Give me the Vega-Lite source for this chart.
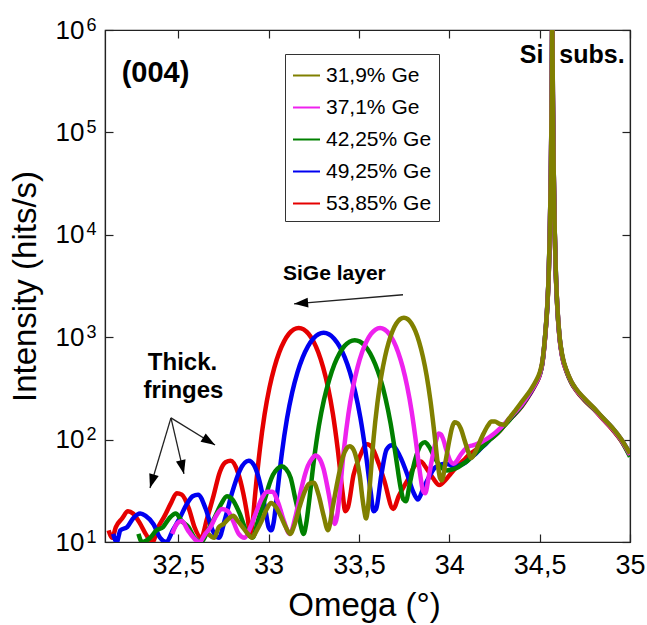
{
"$schema": "https://vega.github.io/schema/vega-lite/v6.json",
"width": 525, "height": 512,
"autosize": {"type": "none"},
"padding": {"left": 105, "top": 30, "right": 17, "bottom": 83},
"background": "white",
"config": {
  "view": {"stroke": "#222", "strokeWidth": 1.2},
  "axis": {"grid": false, "labelFont": "Liberation Sans", "titleFont": "Liberation Sans", "labelColor": "#000", "titleColor": "#000", "domainColor": "#222", "tickColor": "#222", "labelFlush": false, "labelOverlap": false, "titleFontWeight": "normal", "tickWidth": 1.2, "domainWidth": 1.2},
  "legend": {"orient": "none", "legendX": 180, "legendY": 24, "fillColor": "#fff", "strokeColor": "#333", "padding": 7, "symbolType": "stroke", "symbolSize": 729, "symbolStrokeWidth": 2, "labelFont": "Liberation Sans", "labelFontSize": 21, "labelColor": "#000", "labelOffset": 5, "rowPadding": 7}
},
"datasets": {
"red": [{"x":32.115,"y":13},{"x":32.135,"y":11},{"x":32.155,"y":14},{"x":32.19,"y":17},{"x":32.222,"y":20},{"x":32.25,"y":19},{"x":32.29,"y":15},{"x":32.32,"y":12},{"x":32.357,"y":10},{"x":32.39,"y":14},{"x":32.425,"y":18},{"x":32.46,"y":24},{"x":32.492,"y":30},{"x":32.52,"y":29},{"x":32.56,"y":21},{"x":32.59,"y":14},{"x":32.627,"y":11},{"x":32.66,"y":17},{"x":32.695,"y":28},{"x":32.73,"y":48},{"x":32.762,"y":60},{"x":32.79,"y":62},{"x":32.83,"y":48},{"x":32.86,"y":30},{"x":32.885,"y":17},{"x":32.897,"y":12},{"x":32.911,"y":15},{"x":32.924,"y":27},{"x":32.951,"y":78},{"x":32.978,"y":176},{"x":33.005,"y":322},{"x":33.032,"y":505},{"x":33.059,"y":711},{"x":33.086,"y":911},{"x":33.113,"y":1080},{"x":33.14,"y":1192},{"x":33.167,"y":1232},{"x":33.194,"y":1192},{"x":33.221,"y":1080},{"x":33.248,"y":912},{"x":33.275,"y":712},{"x":33.302,"y":507},{"x":33.329,"y":324},{"x":33.356,"y":178},{"x":33.383,"y":80},{"x":33.41,"y":30},{"x":33.424,"y":20},{"x":33.44,"y":22},{"x":33.47,"y":45},{"x":33.5045,"y":68},{"x":33.545,"y":90},{"x":33.572,"y":84},{"x":33.61,"y":58},{"x":33.64,"y":40},{"x":33.69,"y":21},{"x":33.72,"y":28},{"x":33.775,"y":42},{"x":33.81,"y":56},{"x":33.842,"y":61},{"x":33.875,"y":52},{"x":33.91,"y":42},{"x":33.945,"y":36},{"x":33.977,"y":40},{"x":34.01,"y":47},{"x":34.045,"y":55},{"x":34.08,"y":63},{"x":34.112,"y":72},{"x":34.15,"y":80},{"x":34.18,"y":89},{"x":34.215,"y":98},{"x":34.247,"y":108},{"x":34.28,"y":122},{"x":34.315,"y":145},{"x":34.35,"y":168},{"x":34.4,"y":210},{"x":34.45,"y":285},{"x":34.48,"y":352},{"x":34.5,"y":425},{"x":34.515,"y":550},{"x":34.53,"y":980},{"x":34.543,"y":2050},{"x":34.55,"y":3900},{"x":34.556,"y":9800},{"x":34.562,"y":38000},{"x":34.567,"y":240000},{"x":34.57,"y":1500000},{"x":34.573,"y":240000},{"x":34.578,"y":39000},{"x":34.584,"y":9800},{"x":34.59,"y":3900},{"x":34.597,"y":2050},{"x":34.61,"y":980},{"x":34.625,"y":640},{"x":34.65,"y":455},{"x":34.675,"y":360},{"x":34.7,"y":305},{"x":34.75,"y":240},{"x":34.8,"y":198},{"x":34.85,"y":158},{"x":34.9,"y":127},{"x":34.95,"y":98},{"x":35.0,"y":70}],
"blue": [{"x":32.14,"y":12},{"x":32.16,"y":10},{"x":32.18,"y":13},{"x":32.2175,"y":14},{"x":32.25,"y":17},{"x":32.29,"y":19},{"x":32.32,"y":18},{"x":32.3625,"y":15},{"x":32.4,"y":11},{"x":32.435,"y":10},{"x":32.47,"y":13},{"x":32.5075,"y":17},{"x":32.545,"y":23},{"x":32.58,"y":28},{"x":32.61,"y":29},{"x":32.6525,"y":21},{"x":32.69,"y":13},{"x":32.725,"y":11},{"x":32.76,"y":17},{"x":32.7975,"y":30},{"x":32.841,"y":50},{"x":32.8903,"y":62},{"x":32.92,"y":56},{"x":32.9425,"y":44},{"x":32.965,"y":30},{"x":32.986,"y":19},{"x":33.0,"y":14},{"x":33.015,"y":13},{"x":33.0295,"y":16},{"x":33.044,"y":26},{"x":33.073,"y":72},{"x":33.102,"y":160},{"x":33.131,"y":290},{"x":33.16,"y":454},{"x":33.189,"y":636},{"x":33.218,"y":815},{"x":33.247,"y":967},{"x":33.276,"y":1068},{"x":33.305,"y":1103},{"x":33.334,"y":1068},{"x":33.363,"y":967},{"x":33.392,"y":817},{"x":33.421,"y":638},{"x":33.45,"y":457},{"x":33.479,"y":293},{"x":33.508,"y":164},{"x":33.537,"y":76},{"x":33.566,"y":30},{"x":33.5805,"y":20},{"x":33.595,"y":21},{"x":33.624,"y":45},{"x":33.653,"y":80},{"x":33.682,"y":88},{"x":33.725,"y":70},{"x":33.769,"y":45},{"x":33.8,"y":31},{"x":33.827,"y":26},{"x":33.855,"y":33},{"x":33.885,"y":42},{"x":33.915,"y":52},{"x":33.943,"y":56},{"x":33.975,"y":58},{"x":34.001,"y":57},{"x":34.03,"y":54},{"x":34.059,"y":56},{"x":34.09,"y":60},{"x":34.117,"y":66},{"x":34.15,"y":74},{"x":34.175,"y":82},{"x":34.205,"y":92},{"x":34.233,"y":104},{"x":34.26,"y":115},{"x":34.291,"y":132},{"x":34.32,"y":150},{"x":34.349,"y":168},{"x":34.4,"y":214},{"x":34.45,"y":288},{"x":34.48,"y":358},{"x":34.5,"y":430},{"x":34.515,"y":560},{"x":34.53,"y":1000},{"x":34.543,"y":2100},{"x":34.55,"y":4000},{"x":34.556,"y":10000},{"x":34.562,"y":40000},{"x":34.567,"y":260000},{"x":34.57,"y":1500000},{"x":34.573,"y":260000},{"x":34.578,"y":41000},{"x":34.584,"y":10000},{"x":34.59,"y":4000},{"x":34.597,"y":2100},{"x":34.61,"y":1000},{"x":34.625,"y":650},{"x":34.65,"y":462},{"x":34.675,"y":366},{"x":34.7,"y":312},{"x":34.75,"y":246},{"x":34.8,"y":202},{"x":34.85,"y":162},{"x":34.9,"y":131},{"x":34.95,"y":101},{"x":35.0,"y":73}],
"green": [{"x":32.28,"y":12},{"x":32.3,"y":10},{"x":32.345,"y":11},{"x":32.38,"y":13},{"x":32.416,"y":14},{"x":32.45,"y":17},{"x":32.486,"y":19},{"x":32.52,"y":16},{"x":32.557,"y":14},{"x":32.59,"y":11},{"x":32.628,"y":10},{"x":32.665,"y":13},{"x":32.699,"y":17},{"x":32.735,"y":23},{"x":32.77,"y":28},{"x":32.8,"y":26},{"x":32.84,"y":19},{"x":32.875,"y":13},{"x":32.911,"y":11},{"x":32.945,"y":17},{"x":32.982,"y":27},{"x":33.005,"y":37},{"x":33.024,"y":45},{"x":33.05,"y":52},{"x":33.072,"y":55},{"x":33.095,"y":52},{"x":33.123,"y":42},{"x":33.145,"y":28},{"x":33.166,"y":19},{"x":33.18,"y":14},{"x":33.194,"y":12},{"x":33.208,"y":15},{"x":33.222,"y":23},{"x":33.251,"y":63},{"x":33.279,"y":138},{"x":33.307,"y":247},{"x":33.336,"y":386},{"x":33.364,"y":541},{"x":33.392,"y":692},{"x":33.42,"y":819},{"x":33.449,"y":905},{"x":33.477,"y":935},{"x":33.505,"y":906},{"x":33.534,"y":822},{"x":33.562,"y":695},{"x":33.59,"y":545},{"x":33.619,"y":391},{"x":33.647,"y":254},{"x":33.675,"y":145},{"x":33.703,"y":71},{"x":33.732,"y":33},{"x":33.746,"y":26},{"x":33.76,"y":25},{"x":33.78,"y":36},{"x":33.802,"y":55},{"x":33.825,"y":76},{"x":33.845,"y":90},{"x":33.865,"y":94},{"x":33.887,"y":86},{"x":33.91,"y":72},{"x":33.93,"y":62},{"x":33.958,"y":53},{"x":33.986,"y":50},{"x":34.015,"y":51},{"x":34.043,"y":53},{"x":34.07,"y":57},{"x":34.1,"y":62},{"x":34.14,"y":72},{"x":34.185,"y":86},{"x":34.225,"y":100},{"x":34.27,"y":117},{"x":34.3,"y":134},{"x":34.326,"y":150},{"x":34.35,"y":168},{"x":34.4,"y":212},{"x":34.45,"y":292},{"x":34.48,"y":362},{"x":34.5,"y":428},{"x":34.515,"y":555},{"x":34.53,"y":1010},{"x":34.543,"y":2080},{"x":34.55,"y":4100},{"x":34.556,"y":10200},{"x":34.562,"y":39000},{"x":34.567,"y":250000},{"x":34.57,"y":1500000},{"x":34.573,"y":250000},{"x":34.578,"y":40000},{"x":34.584,"y":10200},{"x":34.59,"y":4100},{"x":34.597,"y":2080},{"x":34.61,"y":1010},{"x":34.625,"y":655},{"x":34.65,"y":458},{"x":34.675,"y":362},{"x":34.7,"y":308},{"x":34.75,"y":243},{"x":34.8,"y":199},{"x":34.85,"y":161},{"x":34.9,"y":129},{"x":34.95,"y":99},{"x":35.0,"y":68}],
"magenta": [{"x":32.467,"y":12},{"x":32.492,"y":15},{"x":32.52,"y":16},{"x":32.554,"y":13},{"x":32.585,"y":11},{"x":32.617,"y":10},{"x":32.65,"y":12},{"x":32.679,"y":14},{"x":32.71,"y":18},{"x":32.742,"y":21},{"x":32.775,"y":20},{"x":32.804,"y":16},{"x":32.835,"y":12},{"x":32.867,"y":11},{"x":32.9,"y":14},{"x":32.929,"y":19},{"x":32.96,"y":26},{"x":32.992,"y":31},{"x":33.02,"y":31},{"x":33.054,"y":24},{"x":33.085,"y":16},{"x":33.117,"y":12},{"x":33.15,"y":18},{"x":33.1795,"y":32},{"x":33.217,"y":55},{"x":33.24,"y":65},{"x":33.2595,"y":70},{"x":33.28,"y":66},{"x":33.304,"y":52},{"x":33.325,"y":35},{"x":33.342,"y":24},{"x":33.355,"y":17},{"x":33.367,"y":15},{"x":33.3795,"y":18},{"x":33.392,"y":28},{"x":33.417,"y":80},{"x":33.442,"y":179},{"x":33.467,"y":323},{"x":33.492,"y":505},{"x":33.517,"y":709},{"x":33.542,"y":907},{"x":33.567,"y":1076},{"x":33.592,"y":1188},{"x":33.617,"y":1228},{"x":33.642,"y":1189},{"x":33.667,"y":1079},{"x":33.692,"y":912},{"x":33.717,"y":714},{"x":33.742,"y":513},{"x":33.767,"y":331},{"x":33.792,"y":188},{"x":33.817,"y":91},{"x":33.83,"y":60},{"x":33.842,"y":42},{"x":33.854,"y":32},{"x":33.867,"y":30},{"x":33.885,"y":42},{"x":33.905,"y":65},{"x":33.925,"y":95},{"x":33.942,"y":115},{"x":33.955,"y":112},{"x":33.967,"y":100},{"x":33.985,"y":78},{"x":34.005,"y":62},{"x":34.025,"y":58},{"x":34.042,"y":62},{"x":34.065,"y":72},{"x":34.092,"y":82},{"x":34.11,"y":86},{"x":34.13,"y":88},{"x":34.155,"y":91},{"x":34.18,"y":95},{"x":34.21,"y":102},{"x":34.242,"y":112},{"x":34.275,"y":126},{"x":34.305,"y":142},{"x":34.35,"y":174},{"x":34.4,"y":218},{"x":34.45,"y":294},{"x":34.48,"y":362},{"x":34.5,"y":432},{"x":34.515,"y":565},{"x":34.53,"y":1000},{"x":34.543,"y":2150},{"x":34.55,"y":4000},{"x":34.556,"y":9900},{"x":34.562,"y":41000},{"x":34.567,"y":255000},{"x":34.57,"y":1500000},{"x":34.573,"y":255000},{"x":34.578,"y":40000},{"x":34.584,"y":9900},{"x":34.59,"y":4000},{"x":34.597,"y":2150},{"x":34.61,"y":1000},{"x":34.625,"y":648},{"x":34.65,"y":462},{"x":34.675,"y":368},{"x":34.7,"y":310},{"x":34.75,"y":247},{"x":34.8,"y":201},{"x":34.85,"y":160},{"x":34.9,"y":130},{"x":34.95,"y":100},{"x":35.0,"y":71}],
"olive": [{"x":32.667,"y":12},{"x":32.699,"y":11},{"x":32.725,"y":14},{"x":32.7515,"y":15},{"x":32.78,"y":17},{"x":32.804,"y":18},{"x":32.83,"y":16},{"x":32.8565,"y":14},{"x":32.885,"y":12},{"x":32.909,"y":11},{"x":32.935,"y":13},{"x":32.9615,"y":16},{"x":32.99,"y":21},{"x":33.014,"y":24},{"x":33.04,"y":22},{"x":33.0665,"y":18},{"x":33.095,"y":14},{"x":33.119,"y":12},{"x":33.145,"y":15},{"x":33.1715,"y":22},{"x":33.2,"y":31},{"x":33.224,"y":37},{"x":33.25,"y":38},{"x":33.2765,"y":29},{"x":33.305,"y":18},{"x":33.329,"y":13},{"x":33.355,"y":22},{"x":33.3815,"y":39},{"x":33.413,"y":69},{"x":33.432,"y":82},{"x":33.449,"y":86},{"x":33.468,"y":81},{"x":33.4865,"y":65},{"x":33.505,"y":44},{"x":33.518,"y":28},{"x":33.53,"y":20},{"x":33.539,"y":17},{"x":33.5495,"y":21},{"x":33.56,"y":35},{"x":33.581,"y":102},{"x":33.602,"y":225},{"x":33.623,"y":409},{"x":33.644,"y":639},{"x":33.665,"y":895},{"x":33.686,"y":1147},{"x":33.707,"y":1359},{"x":33.728,"y":1501},{"x":33.749,"y":1552},{"x":33.77,"y":1502},{"x":33.791,"y":1362},{"x":33.812,"y":1151},{"x":33.833,"y":901},{"x":33.854,"y":646},{"x":33.875,"y":419},{"x":33.896,"y":238},{"x":33.917,"y":118},{"x":33.938,"y":55},{"x":33.949,"y":42},{"x":33.959,"y":40},{"x":33.98,"y":62},{"x":34.001,"y":100},{"x":34.015,"y":130},{"x":34.028,"y":148},{"x":34.045,"y":145},{"x":34.064,"y":128},{"x":34.085,"y":98},{"x":34.106,"y":75},{"x":34.12,"y":66},{"x":34.138,"y":72},{"x":34.16,"y":88},{"x":34.19,"y":115},{"x":34.215,"y":138},{"x":34.233,"y":150},{"x":34.253,"y":150},{"x":34.28,"y":142},{"x":34.306,"y":140},{"x":34.33,"y":160},{"x":34.358,"y":185},{"x":34.4,"y":232},{"x":34.45,"y":305},{"x":34.48,"y":375},{"x":34.5,"y":450},{"x":34.515,"y":580},{"x":34.53,"y":1020},{"x":34.543,"y":2150},{"x":34.55,"y":4100},{"x":34.556,"y":10000},{"x":34.562,"y":40000},{"x":34.567,"y":250000},{"x":34.57,"y":1500000},{"x":34.573,"y":250000},{"x":34.578,"y":40000},{"x":34.584,"y":10000},{"x":34.59,"y":4100},{"x":34.597,"y":2150},{"x":34.61,"y":1020},{"x":34.625,"y":670},{"x":34.65,"y":470},{"x":34.675,"y":372},{"x":34.7,"y":315},{"x":34.75,"y":250},{"x":34.8,"y":204},{"x":34.85,"y":163},{"x":34.9,"y":132},{"x":34.95,"y":102},{"x":35.0,"y":73}]
},
"resolve": {"axis": {"x": "independent", "y": "independent"}},
"encoding": {
  "x": {"field": "x", "type": "quantitative", "scale": {"domain": [32.095, 35], "nice": false, "zero": false}, "axis": null},
  "y": {"field": "y", "type": "quantitative", "scale": {"type": "log", "domain": [10, 1000000], "nice": false}, "axis": null}
},
"layer": [
  {"data": {"name": "red"}, "mark": {"type": "line", "strokeWidth": 4.5, "clip": true, "interpolate": "monotone"},
   "encoding": {
     "x": {"field": "x", "type": "quantitative", "scale": {"domain": [32.095, 35], "nice": false, "zero": false},
           "axis": {"orient": "bottom", "values": [32.5, 33, 33.5, 34, 34.5, 35], "format": "~g", "labelExpr": "replace(datum.label, '.', ',')", "labelFontSize": 27, "labelPadding": 18, "tickSize": -8, "title": "Omega (°)", "titleFontSize": 33, "titleX": 259, "titleY": 73, "titleBaseline": "alphabetic", "titleAlign": "center"}},
     "y": {"field": "y", "type": "quantitative", "scale": {"type": "log", "domain": [10, 1000000], "nice": false},
           "axis": {"orient": "left", "values": [10, 100, 1000, 10000, 100000, 1000000], "labelExpr": "'10'", "labelFontSize": 26, "labelPadding": 29, "labelAlign": "right", "labelBaseline": "middle", "tickSize": -8, "title": "Intensity (hits/s)", "titleFontSize": 33, "titleX": -70, "titleY": 256, "titleAngle": 270, "titleBaseline": "alphabetic", "titleAlign": "center"}},
     "color": {"datum": "53,85% Ge", "type": "nominal", "scale": {"domain": ["31,9% Ge", "37,1% Ge", "42,25% Ge", "49,25% Ge", "53,85% Ge"], "range": ["#808000", "#EE22EE", "#008000", "#0000F0", "#E50000"]}, "legend": {"title": null}}
   }},
  {"data": {"name": "blue"}, "mark": {"type": "line", "strokeWidth": 4.5, "clip": true, "interpolate": "monotone"},
   "encoding": {
     "x": {"field": "x", "type": "quantitative", "scale": {"domain": [32.095, 35], "nice": false, "zero": false},
           "axis": {"orient": "top", "values": [32.5, 33, 33.5, 34, 34.5, 35], "labels": false, "tickSize": -8, "title": null}},
     "y": {"field": "y", "type": "quantitative", "scale": {"type": "log", "domain": [10, 1000000], "nice": false},
           "axis": {"orient": "right", "values": [10, 100, 1000, 10000, 100000, 1000000], "labels": false, "tickSize": -8, "title": null}},
     "color": {"datum": "49,25% Ge", "type": "nominal"}
   }},
  {"data": {"name": "green"}, "mark": {"type": "line", "strokeWidth": 4.5, "clip": true, "interpolate": "monotone"},
   "encoding": {
     "y": {"field": "y", "type": "quantitative", "scale": {"type": "log", "domain": [10, 1000000], "nice": false},
           "axis": {"orient": "left", "values": [10, 100, 1000, 10000, 100000, 1000000], "ticks": false, "domain": false, "labelExpr": "'' + round(log(datum.value) / LN10)", "labelFontSize": 18, "labelAlign": "left", "labelBaseline": "alphabetic", "labelPadding": 19, "labelDy": -3, "title": null}},
     "color": {"datum": "42,25% Ge", "type": "nominal"}
   }},
  {"data": {"name": "magenta"}, "mark": {"type": "line", "strokeWidth": 4.5, "clip": true, "interpolate": "monotone"},
   "encoding": {"color": {"datum": "37,1% Ge", "type": "nominal"}}},
  {"data": {"name": "olive"}, "mark": {"type": "line", "strokeWidth": 4.5, "clip": true, "interpolate": "monotone"},
   "encoding": {"color": {"datum": "31,9% Ge", "type": "nominal"}}},
  {"data": {"values": [{"x": 32.187, "y": 308800, "t": "(004)"}]},
   "mark": {"type": "text", "font": "Liberation Sans", "fontWeight": "bold", "fontSize": 29, "align": "left", "baseline": "alphabetic", "color": "#000"},
   "encoding": {"text": {"field": "t"}}},
  {"data": {"values": [{"x": 34.5206, "y": 477500, "t": "Si"}]},
   "mark": {"type": "text", "font": "Liberation Sans", "fontWeight": "bold", "fontSize": 25, "align": "right", "baseline": "alphabetic", "color": "#000"},
   "encoding": {"text": {"field": "t"}}},
  {"data": {"values": [{"x": 34.6092, "y": 477500, "t": "subs."}]},
   "mark": {"type": "text", "font": "Liberation Sans", "fontWeight": "bold", "fontSize": 25, "align": "left", "baseline": "alphabetic", "color": "#000"},
   "encoding": {"text": {"field": "t"}}},
  {"data": {"values": [{"x": 33.08, "y": 3640, "t": "SiGe layer"}]},
   "mark": {"type": "text", "font": "Liberation Sans", "fontWeight": "bold", "fontSize": 21, "align": "left", "baseline": "alphabetic", "color": "#000"},
   "encoding": {"text": {"field": "t"}}},
  {"data": {"values": [{"x": 32.524, "y": 480, "t": "Thick."}, {"x": 32.529, "y": 256, "t": "fringes"}]},
   "mark": {"type": "text", "font": "Liberation Sans", "fontWeight": "bold", "fontSize": 24, "align": "center", "baseline": "alphabetic", "color": "#000"},
   "encoding": {"text": {"field": "t"}}},
  {"data": {"values": [{"x": 33.744, "y": 2597, "x2": 33.141, "y2": 2118}, {"x": 32.46, "y": 163, "x2": 32.344, "y2": 33.7}, {"x": 32.46, "y": 163, "x2": 32.532, "y2": 46.3}, {"x": 32.46, "y": 163, "x2": 32.704, "y2": 88.7}]},
   "mark": {"type": "rule", "color": "#222", "strokeWidth": 1.3},
   "encoding": {"x2": {"field": "x2"}, "y2": {"field": "y2"}}},
  {"data": {"values": [{"x": 33.18, "y": 2148}]},
   "mark": {"type": "point", "shape": "M-0.7,-1L0.7,-1L0,1Z", "filled": true, "color": "#000", "opacity": 1, "size": 196, "angle": 85.3},
   "encoding": {}},
  {"data": {"values": [{"x": 32.355, "y": 39.2}]},
   "mark": {"type": "point", "shape": "M-0.7,-1L0.7,-1L0,1Z", "filled": true, "color": "#000", "opacity": 1, "size": 196, "angle": 16.7},
   "encoding": {}},
  {"data": {"values": [{"x": 32.523, "y": 53.8}]},
   "mark": {"type": "point", "shape": "M-0.7,-1L0.7,-1L0,1Z", "filled": true, "color": "#000", "opacity": 1, "size": 196, "angle": 347},
   "encoding": {}},
  {"data": {"values": [{"x": 32.671, "y": 96.4}]},
   "mark": {"type": "point", "shape": "M-0.7,-1L0.7,-1L0,1Z", "filled": true, "color": "#000", "opacity": 1, "size": 196, "angle": 301.5},
   "encoding": {}}
]
}
